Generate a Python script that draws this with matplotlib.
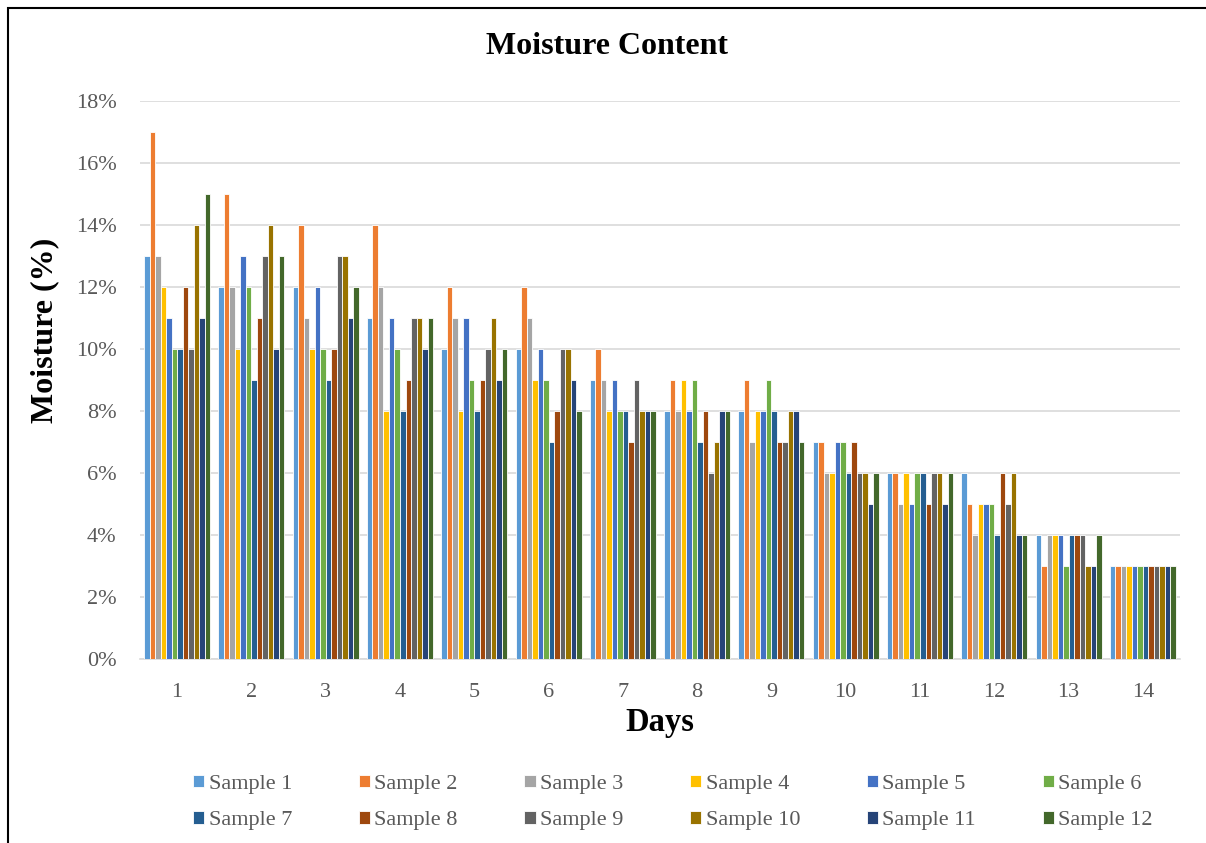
import matplotlib.pyplot as plt
import matplotlib.patches as patches
import numpy as np

plt.rcParams['font.family'] = ['Liberation Serif', 'DejaVu Serif']

days = list(range(1, 15))
samples = ["Sample %d" % i for i in range(1, 13)]
colors = ["#5B9BD5", "#ED7D31", "#A5A5A5", "#FFC000", "#4472C4", "#70AD47",
          "#255E91", "#9E480E", "#636363", "#997300", "#264478", "#43682B"]

# moisture (%) per day, one list per day, samples 1..12
day1 = [13, 17, 13, 12, 11, 10, 10, 12, 10, 14, 11, 15]
day2 = [12, 15, 12, 10, 13, 12, 9, 11, 13, 14, 10, 13]
day3 = [12, 14, 11, 10, 12, 10, 9, 10, 13, 13, 11, 12]
day4 = [11, 14, 12, 8, 11, 10, 8, 9, 11, 11, 10, 11]
day5 = [10, 12, 11, 8, 11, 9, 8, 9, 10, 11, 9, 10]
day6 = [10, 12, 11, 9, 10, 9, 7, 8, 10, 10, 9, 8]
day7 = [9, 10, 9, 8, 9, 8, 8, 7, 9, 8, 8, 8]
day8 = [8, 9, 8, 9, 8, 9, 7, 8, 6, 7, 8, 8]
day9 = [8, 9, 7, 8, 8, 9, 8, 7, 7, 8, 8, 7]
day10 = [7, 7, 6, 6, 7, 7, 6, 7, 6, 6, 5, 6]
day11 = [6, 6, 5, 6, 5, 6, 6, 5, 6, 6, 5, 6]
day12 = [6, 5, 4, 5, 5, 5, 4, 6, 5, 6, 4, 4]
day13 = [4, 3, 4, 4, 4, 3, 4, 4, 4, 3, 3, 4]
day14 = [3, 3, 3, 3, 3, 3, 3, 3, 3, 3, 3, 3]

data = np.array([day1, day2, day3, day4, day5, day6, day7, day8, day9,
                 day10, day11, day12, day13, day14]) / 100.0

fig = plt.figure(figsize=(12.06, 8.43), dpi=100)
ax = fig.add_axes([140/1206, 1 - 659/843, 1040/1206, 558/843])

x = np.arange(len(days))
n = len(samples)
bw = 0.89 / n
bars = []
for i in range(n):
    b = ax.bar(x - 0.445 + bw * (i + 0.5), data[:, i], width=bw, color=colors[i],
               edgecolor="white", linewidth=0.6, label=samples[i], zorder=3)
    bars.append(b)

ax.set_xlim(-0.5, len(days) - 0.5)
ax.set_ylim(0, 0.18)
yt = np.arange(0, 0.181, 0.02)
ax.set_yticks(yt)
ax.set_yticklabels(["%d%%" % round(v * 100) for v in yt])
ax.set_xticks(x)
ax.set_xticklabels([str(d) for d in days])
ax.tick_params(axis="x", length=0, pad=17)
ax.tick_params(axis="y", length=0, pad=17)
ax.tick_params(labelsize=16, labelcolor="#595959")
ax.grid(axis="y", color="#D9D9D9", linewidth=1.2, zorder=0)
for s in ["top", "right", "left"]:
    ax.spines[s].set_visible(False)
ax.spines["bottom"].set_color("#D9D9D9")
ax.spines["bottom"].set_linewidth(1.2)

fig.text(607/1206, 1 - 47/843, "Moisture Content", fontsize=23, fontweight="bold",
         ha="center", va="center")
ax.set_xlabel("Days", fontsize=23.5, fontweight="bold", labelpad=4)
fig.text(45/1206, 1 - 330/843, "Moisture (%)", fontsize=23, fontweight="bold",
         rotation=90, ha="center", va="center")

# legend laid out row by row like the original
order = [0, 6, 1, 7, 2, 8, 3, 9, 4, 10, 5, 11]
fig.legend([bars[k] for k in order], [samples[k] for k in order],
           loc="center", bbox_to_anchor=(0.558, 0.048), ncol=6, frameon=False,
           fontsize=16, handlelength=0.5, handleheight=0.5, handletextpad=0.2,
           columnspacing=3.0, labelspacing=0.78, labelcolor="#595959")

fig.patches.append(patches.Rectangle((8/1206, -0.01), 1.0, 1 - 8/843 + 0.01,
                                     transform=fig.transFigure, fill=False,
                                     edgecolor="black", linewidth=1.5))

fig.savefig("out.png", dpi=100)
